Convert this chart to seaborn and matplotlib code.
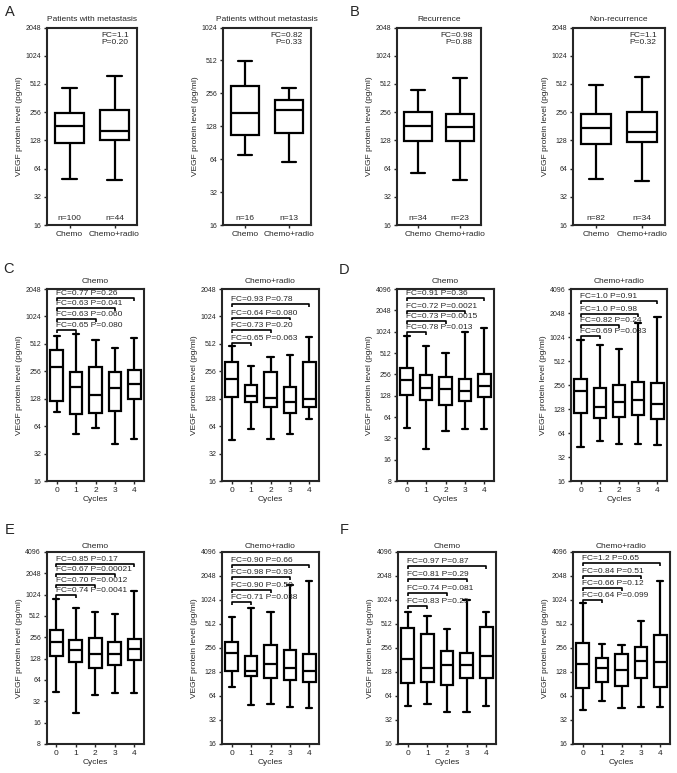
import pandas as pd
from matplotlib import pyplot as plt
from matplotlib.ticker import NullLocator
import seaborn as sns

# ---- data (five-number summaries: min, Q1, median, Q3, max; pg/ml)
groups = ['Chemo', 'Chemo+radio']
cycles = ['0', '1', '2', '3', '4']

met_chemo = [49.5, 121, 182, 250, 465]
met_radio = [47.8, 129, 162, 267, 615]
nomet_chemo = [70, 106, 168, 297, 504]
nomet_radio = [60, 112, 180, 224, 287]
rec_chemo = [57.8, 124.5, 184, 260, 441]
rec_radio = [48.3, 124.5, 178, 245, 597]
nonrec_chemo = [49.5, 118, 173, 247, 499]
nonrec_radio = [47.5, 122.6, 159, 260, 607]

met_n = [100, 44]
nomet_n = [16, 13]
rec_n = [34, 23]
nonrec_n = [82, 34]

met_stat = ['1.1', '0.20']
nomet_stat = ['0.82', '0.33']
rec_stat = ['0.98', '0.88']
nonrec_stat = ['1.1', '0.32']

c_chemo = [[92, 122, 284, 437, 628], [52.9, 86.4, 171, 252, 661], [61.6, 90, 142, 286, 563],
           [40.7, 94, 167, 250, 459], [46.2, 126, 185, 263, 592]]
c_radio = [[45.1, 135, 213, 322, 479], [60, 118, 138.6, 183, 289], [46.2, 105, 131.7, 250, 363],
           [52.9, 88.6, 119, 174, 385], [77.3, 103, 127, 320, 607]]
d_chemo = [[44.8, 131.6, 215, 318, 902], [22.3, 113, 163.5, 252, 651], [40.2, 96, 158, 234, 518],
           [42.9, 107, 150, 219, 1024], [42.9, 122, 178, 258, 1160]]
d_radio = [[43.3, 113, 214, 303, 940], [51, 100, 134, 233, 821], [46.8, 101, 157, 257, 724],
           [46.4, 108.6, 168, 278, 1541], [45, 96.6, 149, 270, 1800]]
e_chemo = [[43, 139.6, 222, 327, 884], [21.6, 113.7, 171, 237, 668], [39.5, 95.6, 147, 252, 574],
           [41.6, 104, 147, 220, 538], [41.6, 124, 175, 245, 1145]]
e_radio = [[82.6, 133, 224, 307, 624], [49.2, 113, 133, 205, 817], [50.1, 107, 161, 279, 721],
           [46, 101, 145, 239, 1569], [44.7, 96, 132, 213, 1760]]
f_chemo = [[48.2, 93.5, 186.5, 451, 715], [50.6, 97, 142.6, 387, 637], [40.6, 89, 157, 235, 447],
           [40.6, 109, 155, 222, 1010], [48.2, 109, 203, 464, 729]]
f_radio = [[42.6, 81.7, 160, 298, 943], [56, 96, 145, 194, 287], [45.6, 86.6, 137, 215, 279],
           [46.9, 108, 176, 266, 562], [46.9, 83.3, 173, 372, 1795]]

# comparisons of cycle 0 vs cycle 1, 2, 3, 4
c_chemo_ann = ['FC=0.65 P=0.080', 'FC=0.63 P=0.060', 'FC=0.63 P=0.041', 'FC=0.77 P=0.26']
c_radio_ann = ['FC=0.65 P=0.063', 'FC=0.73 P=0.20', 'FC=0.64 P=0.080', 'FC=0.93 P=0.78']
d_chemo_ann = ['FC=0.78 P=0.013', 'FC=0.73 P=0.0015', 'FC=0.72 P=0.0021', 'FC=0.91 P=0.36']
d_radio_ann = ['FC=0.69 P=0.033', 'FC=0.82 P=0.24', 'FC=1.0 P=0.98', 'FC=1.0 P=0.91']
e_chemo_ann = ['FC=0.74 P=0.0041', 'FC=0.70 P=0.0012', 'FC=0.67 P=0.00021', 'FC=0.85 P=0.17']
e_radio_ann = ['FC=0.71 P=0.038', 'FC=0.90 P=0.50', 'FC=0.98 P=0.93', 'FC=0.90 P=0.66']
f_chemo_ann = ['FC=0.83 P=0.29', 'FC=0.74 P=0.081', 'FC=0.81 P=0.29', 'FC=0.97 P=0.87']
f_radio_ann = ['FC=0.64 P=0.099', 'FC=0.66 P=0.12', 'FC=0.84 P=0.51', 'FC=1.2 P=0.65']

# ---- style
W, H = 677, 773
sns.set_style('ticks')
plt.rcParams['font.family'] = ['Liberation Sans', 'DejaVu Sans']
plt.rcParams['axes.linewidth'] = 1.5
FS = 6.0
LW = 1.6

fig = plt.figure(figsize=(W / 100, H / 100), dpi=100)


def make_ax(l, t, r, b):
    return fig.add_axes([l / W, 1 - b / H, (r - l) / W, (b - t) / H])


def box(ax, names, stats, ylo, yhi):
    df = pd.DataFrame({'group': [n for n, s in zip(names, stats) for _ in s],
                       'value': [v for s in stats for v in s]})
    sns.boxplot(data=df, x='group', y='value', order=names, ax=ax, log_scale=(False, 2),
                whis=(0, 100), width=0.65, color='white', saturation=1, linecolor='black',
                linewidth=LW, fliersize=0)
    ax.set_ylim(ylo, yhi)
    ticks = []
    t = ylo
    while t <= yhi:
        ticks.append(t)
        t *= 2
    ax.set_yticks(ticks, labels=[str(int(v)) for v in ticks])
    ax.yaxis.set_minor_locator(NullLocator())
    ax.set_xlim(-0.5, len(names) - 0.5)
    ax.tick_params(axis='y', labelsize=5.0, length=2.5, width=1, pad=1.5)
    ax.tick_params(axis='x', labelsize=FS, length=2.5, width=1, pad=2)
    ax.set_ylabel('VEGF protein level (pg/ml)', fontsize=FS, labelpad=2)
    for sp in ax.spines.values():
        sp.set_linewidth(1.5)


def two_panel(rect, title, stats, n, st, ylo, yhi, pad):
    ax = make_ax(*rect)
    box(ax, groups, stats, ylo, yhi)
    ax.set_xlabel('')
    ax.set_title(title, fontsize=FS, pad=pad)
    ax.annotate('FC=%s\nP=%s' % (st[0], st[1]), (1, 1), xycoords='axes fraction',
                xytext=(-6, -3), textcoords='offset points', ha='right', va='top',
                fontsize=FS, multialignment='right', linespacing=1.15)
    for i, k in enumerate(n):
        ax.annotate('n=%d' % k, (i, 0), xycoords=ax.get_xaxis_transform(),
                    xytext=(0, 2.5), textcoords='offset points', ha='center', va='bottom',
                    fontsize=FS)
    return ax


def cycle_panel(rect, title, stats, ann, ylo, yhi, ybr, pad):
    ax = make_ax(*rect)
    box(ax, cycles, stats, ylo, yhi)
    ax.set_xlabel('Cycles', fontsize=FS, labelpad=1.5)
    ax.set_title(title, fontsize=FS, pad=pad)
    tr = ax.get_xaxis_transform()
    for k, (txt, yb) in enumerate(zip(ann, ybr)):
        ax.plot([0, 0, k + 1, k + 1], [yb - 0.015, yb, yb, yb - 0.015], color='black',
                lw=1.2, transform=tr, clip_on=False, solid_capstyle='butt')
        ax.text(-0.02, yb + 0.005, txt, transform=tr, ha='left', va='bottom', fontsize=FS)
    return ax


# row 1
two_panel((47, 27.5, 137, 225), 'Patients with metastasis', [met_chemo, met_radio], met_n, met_stat, 16, 2048, 5)
two_panel((223, 27.5, 311, 225), 'Patients without metastasis', [nomet_chemo, nomet_radio], nomet_n, nomet_stat, 16, 1024, 5)
two_panel((397, 27.5, 481, 225), 'Recurrence', [rec_chemo, rec_radio], rec_n, rec_stat, 16, 2048, 5)
two_panel((573, 27.5, 665, 225), 'Non-recurrence', [nonrec_chemo, nonrec_radio], nonrec_n, nonrec_stat, 16, 2048, 5)

# row 2
cycle_panel((47, 289, 144, 481), 'Chemo', c_chemo, c_chemo_ann, 16, 2048, [0.788, 0.845, 0.899, 0.951], 4)
cycle_panel((222, 289, 319, 481), 'Chemo+radio', c_radio, c_radio_ann, 16, 2048, [0.717, 0.785, 0.851, 0.922], 4)
cycle_panel((397, 289, 494, 481), 'Chemo', d_chemo, d_chemo_ann, 8, 4096, [0.778, 0.835, 0.887, 0.953], 4)
cycle_panel((571, 289, 667, 481), 'Chemo+radio', d_radio, d_radio_ann, 16, 4096, [0.754, 0.811, 0.87, 0.939], 4)

# row 3
cycle_panel((46.5, 552, 144, 744), 'Chemo', e_chemo, e_chemo_ann, 8, 4096, [0.778, 0.828, 0.885, 0.939], 3)
cycle_panel((222, 552, 319, 744), 'Chemo+radio', e_radio, e_radio_ann, 16, 4096, [0.738, 0.8, 0.868, 0.934], 3)
cycle_panel((398, 552, 496, 744), 'Chemo', f_chemo, f_chemo_ann, 16, 4096, [0.719, 0.788, 0.859, 0.927], 3)
cycle_panel((573, 552, 670, 744), 'Chemo+radio', f_radio, f_radio_ann, 16, 4096, [0.75, 0.814, 0.875, 0.941], 3)

for letter, x, y in [('A', 10, 12), ('B', 355, 12), ('C', 9, 269), ('D', 344, 270), ('E', 10, 530), ('F', 344, 530)]:
    fig.text(x / W, 1 - y / H, letter, fontsize=10.5, ha='center', va='center')

plt.savefig('out.png', dpi=100)
plt.close()
